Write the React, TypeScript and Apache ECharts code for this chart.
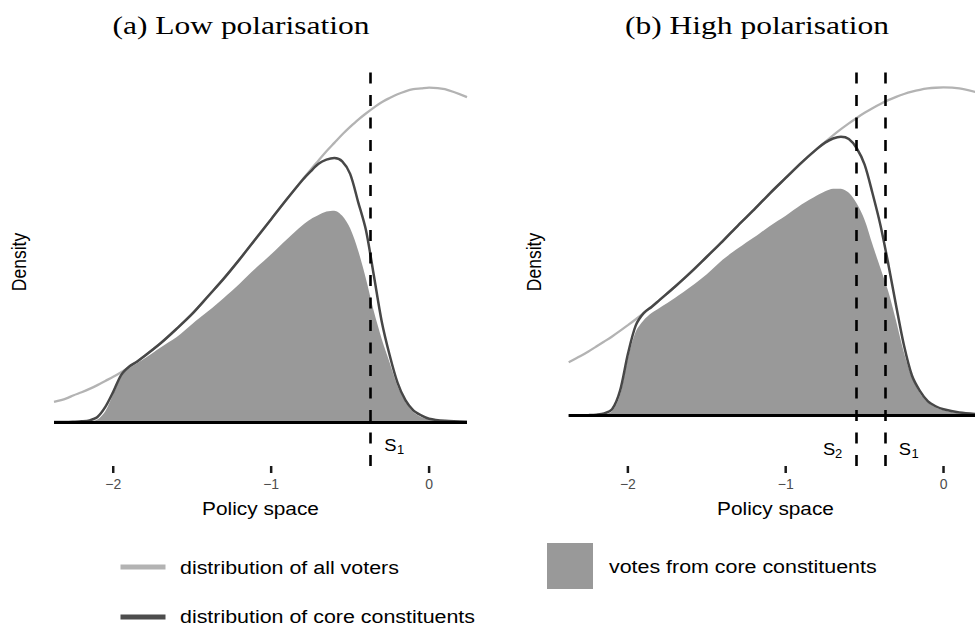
import React, { useEffect, useRef } from "react";
import * as echarts from "echarts";

// Policy positions at which the densities were read
const policyX = [
  -2.375, -2.3, -2.25, -2.2, -2.15, -2.1, -2.05, -2.0, -1.95, -1.9, -1.85, -1.8,
  -1.7, -1.6, -1.5, -1.4, -1.3, -1.2, -1.1, -1.0, -0.9, -0.8, -0.75, -0.7, -0.65,
  -0.6, -0.55, -0.5, -0.45, -0.4, -0.35, -0.3, -0.25, -0.2, -0.15, -0.1, -0.05, 0,
  0.1, 0.24,
];

// (a) Low polarisation
const allVotersLow = [
  0.024, 0.028, 0.032, 0.0355, 0.0395, 0.044, 0.049, 0.054, 0.0595, 0.0655, 0.072,
  0.079, 0.094, 0.111, 0.1295, 0.1495, 0.1715, 0.194, 0.218, 0.242, 0.266, 0.2895,
  0.301, 0.312, 0.323, 0.333, 0.343, 0.352, 0.3605, 0.368, 0.375, 0.3815, 0.3865,
  0.391, 0.3945, 0.397, 0.398, 0.399, 0.397, 0.3875,
];
const coreLow = [
  0, 0, 0.0003, 0.0008, 0.002, 0.006, 0.018, 0.036, 0.056, 0.066, 0.072, 0.079,
  0.094, 0.111, 0.129, 0.15, 0.171, 0.194, 0.218, 0.242, 0.266, 0.289, 0.299,
  0.308, 0.313, 0.315, 0.311, 0.296, 0.263, 0.229, 0.175, 0.12, 0.08, 0.047, 0.026,
  0.014, 0.008, 0.004, 0.0015, 0.0003,
];
const votesLow = [
  0, 0, 0, 0.0003, 0.0008, 0.003, 0.013, 0.033, 0.054, 0.064, 0.07, 0.076, 0.089,
  0.101, 0.117, 0.132, 0.148, 0.165, 0.183, 0.2, 0.218, 0.235, 0.242, 0.247, 0.251,
  0.252, 0.246, 0.231, 0.205, 0.171, 0.132, 0.099, 0.071, 0.043, 0.024, 0.012,
  0.006, 0.003, 0.001, 0,
];
const cutoffsLow = [-0.37];

// (b) High polarisation
const allVotersHigh = [
  0.052, 0.058, 0.0625, 0.0673, 0.0722, 0.0772, 0.0826, 0.0882, 0.094, 0.1,
  0.1062, 0.1127, 0.1261, 0.1403, 0.155, 0.1703, 0.1858, 0.2014, 0.2169, 0.2321,
  0.2467, 0.2606, 0.2672, 0.2736, 0.2796, 0.2853, 0.2906, 0.2956, 0.3001, 0.3043,
  0.308, 0.3112, 0.314, 0.3163, 0.3181, 0.3194, 0.3201, 0.3204, 0.3194, 0.3145,
];
const coreHigh = [
  0, 0, 0.0003, 0.0008, 0.002, 0.006, 0.024, 0.06, 0.088, 0.1, 0.106, 0.1127,
  0.126, 0.14, 0.155, 0.17, 0.186, 0.201, 0.217, 0.232, 0.247, 0.2606, 0.2665,
  0.2705, 0.2722, 0.27, 0.261, 0.245, 0.217, 0.186, 0.148, 0.107, 0.068, 0.039,
  0.024, 0.014, 0.009, 0.006, 0.003, 0.001,
];
const votesHigh = [
  0, 0, 0, 0.0003, 0.001, 0.004, 0.02, 0.056, 0.082, 0.093, 0.1, 0.105, 0.115,
  0.126, 0.138, 0.152, 0.1635, 0.174, 0.185, 0.195, 0.206, 0.215, 0.219, 0.2215,
  0.2215, 0.2175, 0.207, 0.191, 0.167, 0.144, 0.121, 0.092, 0.061, 0.037, 0.022,
  0.013, 0.008, 0.005, 0.002, 0.0005,
];
const cutoffsHigh = [-0.55, -0.37];
const cutoffNamesHigh = ["2", "1"];

const xTicks = [-2, -1, 0];
const panelTitles = ["(a) Low polarisation", "(b) High polarisation"];
const legendLabels = [
  "distribution of all voters",
  "distribution of core constituents",
  "votes from core constituents",
];

const X_MIN = -2.375;
const X_MAX = 0.24;
// y extent of each grid (including the strip holding the tick marks) and the
// lower end of the plotting panel, where the cut-off lines stop
const Y_RANGES = [
  [-0.0608, 0.4211],
  [-0.0562, 0.3384],
];
const PANEL_BOTTOM = [-0.0525, -0.0493];

const SANS = "Liberation Sans, Arial, sans-serif";
const SERIF = "Liberation Serif, Times New Roman, serif";
const STRETCH = 1.19;
const SMOOTH = 0.3;

const pairs = (ys: number[]) => policyX.map((x, i) => [x, ys[i]]);

const minus = (v: number) => (v < 0 ? "\u2212" + Math.abs(v) : String(v));

function panelSeries(
  idx: number,
  all: number[],
  core: number[],
  votes: number[],
  cutoffs: number[]
) {
  const dash = { type: [11, 11.5], dashOffset: 19, width: 2.6, color: "#000000" };
  return [
    {
      type: "line",
      name: legendLabels[2],
      xAxisIndex: idx,
      yAxisIndex: idx,
      data: pairs(votes),
      smooth: SMOOTH,
      showSymbol: false,
      symbol: "none",
      lineStyle: { width: 0 },
      areaStyle: { color: "#999999", opacity: 1 },
      z: 1,
    },
    {
      type: "line",
      name: legendLabels[0],
      xAxisIndex: idx,
      yAxisIndex: idx,
      data: pairs(all),
      smooth: SMOOTH,
      showSymbol: false,
      symbol: "none",
      lineStyle: { width: 2.3, color: "#b3b3b3" },
      z: 2,
    },
    {
      type: "line",
      name: legendLabels[1],
      xAxisIndex: idx,
      yAxisIndex: idx,
      data: pairs(core),
      smooth: SMOOTH,
      showSymbol: false,
      symbol: "none",
      lineStyle: { width: 2.5, color: "#474747" },
      z: 3,
      markLine: {
        silent: true,
        symbol: ["none", "none"],
        label: { show: false },
        data: [
          [
            { coord: [X_MIN, 0], lineStyle: { type: "solid", width: 3, color: "#000000" } },
            { coord: [X_MAX, 0] },
          ],
          ...cutoffs.map((c) => [
            { coord: [c, Y_RANGES[idx][1]], lineStyle: dash },
            { coord: [c, PANEL_BOTTOM[idx]] },
          ]),
        ],
      },
    },
    // tick marks at the foot of each panel
    {
      type: "scatter",
      xAxisIndex: idx,
      yAxisIndex: idx,
      data: xTicks.map((t) => [t, Y_RANGES[idx][0]]),
      symbol: "rect",
      symbolSize: [2.5, 7],
      symbolOffset: [0, -3.5],
      itemStyle: { color: "#1a1a1a", opacity: 1 },
      silent: true,
      clip: false,
      z: 10,
    },
  ];
}

function xAxisFor(idx: number) {
  return {
    gridIndex: idx,
    type: "value",
    position: "bottom",
    min: X_MIN,
    max: X_MAX,
    axisLine: { show: false, onZero: false },
    splitLine: { show: false },
    axisTick: { show: false },
    axisLabel: {
      show: true,
      customValues: xTicks,
      formatter: minus,
      color: "#4d4d4d",
      fontFamily: SANS,
      fontSize: 14,
      margin: 4,
    },
  };
}

function stretchedText(
  text: string,
  x: number,
  y: number,
  size: number,
  opts: any = {}
) {
  return {
    type: "text",
    x,
    y,
    scaleX: opts.rotate ? 1 : opts.scaleX ?? STRETCH,
    scaleY: opts.rotate ? STRETCH : 1,
    rotation: opts.rotate ? Math.PI / 2 : 0,
    silent: true,
    style: {
      text,
      fill: opts.fill ?? "#000000",
      fontFamily: opts.fontFamily ?? SANS,
      fontSize: size,
      align: opts.align ?? "center",
      verticalAlign: "middle",
    },
  };
}

export default function App() {
  const ref = useRef<HTMLDivElement>(null);

  useEffect(() => {
    if (!ref.current) return;
    const chart = echarts.init(ref.current, null, { renderer: "svg" });

    chart.setOption({
      animation: false,
      backgroundColor: "#ffffff",
      grid: [
        { left: 54, top: 69, width: 413, height: 404, outerBoundsMode: "none" },
        { left: 568.7, top: 69, width: 412.7, height: 404, outerBoundsMode: "none" },
      ],
      xAxis: [xAxisFor(0), xAxisFor(1)],
      yAxis: Y_RANGES.map((r, i) => ({
        gridIndex: i,
        type: "value",
        min: r[0],
        max: r[1],
        show: false,
      })),
      series: [
        ...panelSeries(0, allVotersLow, coreLow, votesLow, cutoffsLow),
        ...panelSeries(1, allVotersHigh, coreHigh, votesHigh, cutoffsHigh),
      ],
    });

    // Cut-off labels positioned from the axis scale
    const sLabel = (gridIndex: number, v: number, sub: string, side: number, y: number) => {
      const px = chart.convertToPixel({ gridIndex }, [v, 0]) as number[];
      const els: any[] = [];
      if (side > 0) {
        const x0 = px[0] + 13.5;
        els.push(stretchedText("S", x0, y, 17, { align: "left", scaleX: 1.08 }));
        els.push(stretchedText(sub, x0 + 12.8, y + 5, 12, { align: "left", scaleX: 1.08 }));
      } else {
        const x1 = px[0] - 14.5;
        els.push(stretchedText(sub, x1, y + 5, 12, { align: "right", scaleX: 1.08 }));
        els.push(stretchedText("S", x1 - 7, y, 17, { align: "right", scaleX: 1.08 }));
      }
      return els;
    };

    const graphic: any[] = [
      // panel titles
      stretchedText(panelTitles[0], 241, 26, 25, { fontFamily: SERIF, scaleX: 1.26 }),
      stretchedText(panelTitles[1], 757, 26, 25, { fontFamily: SERIF, scaleX: 1.26 }),
      // axis titles
      stretchedText("Policy space", 260.5, 509, 17.5),
      stretchedText("Policy space", 775.5, 509, 17.5),
      stretchedText("Density", 19, 262, 17.5, { rotate: true }),
      stretchedText("Density", 534, 262, 17.5, { rotate: true }),
      // cut-off labels
      ...sLabel(0, cutoffsLow[0], "1", 1, 445),
      ...sLabel(1, cutoffsHigh[0], cutoffNamesHigh[0], -1, 449),
      ...sLabel(1, cutoffsHigh[1], cutoffNamesHigh[1], 1, 449),
      // legend
      {
        type: "line",
        silent: true,
        shape: { x1: 120.5, y1: 567, x2: 165.5, y2: 567 },
        style: { stroke: "#b3b3b3", lineWidth: 5 },
      },
      stretchedText(legendLabels[0], 180, 568, 18, { align: "left" }),
      {
        type: "line",
        silent: true,
        shape: { x1: 120.5, y1: 617, x2: 165.5, y2: 617 },
        style: { stroke: "#4d4d4d", lineWidth: 5 },
      },
      stretchedText(legendLabels[1], 180, 617, 18, { align: "left" }),
      {
        type: "rect",
        silent: true,
        shape: { x: 547, y: 543, width: 46, height: 46 },
        style: { fill: "#999999" },
      },
      stretchedText(legendLabels[2], 609, 567, 18, { align: "left" }),
    ];

    chart.setOption({ graphic });

    return () => chart.dispose();
  }, []);

  return (
    <div
      ref={ref}
      style={{ position: "fixed", left: 0, top: 0, width: 975, height: 630, overflow: "hidden" }}
    />
  );
}
